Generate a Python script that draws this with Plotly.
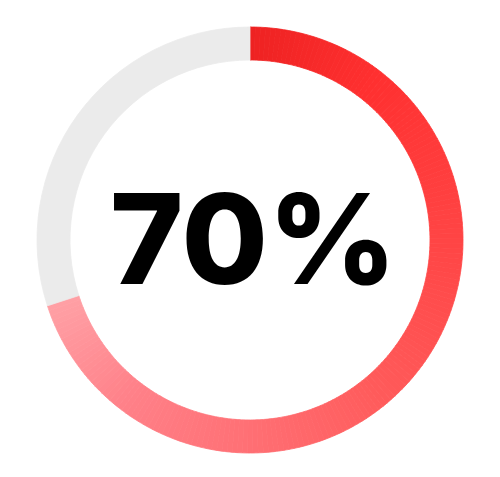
import plotly.graph_objects as go

# Data
progress_value = 70
remaining_value = 100 - progress_value
center_label = "70%"

# Gradient stops along the arc (fraction of filled arc, color)
gradient_stops = [
    (0.00, (238, 34, 34)),
    (0.15, (255, 48, 48)),
    (0.36, (255, 69, 69)),
    (0.55, (255, 90, 90)),
    (0.72, (255, 112, 117)),
    (0.86, (255, 128, 136)),
    (1.00, (255, 160, 165)),
]
track_color = "#ebebeb"

N = 180

def interp(t):
    for (t0, c0), (t1, c1) in zip(gradient_stops[:-1], gradient_stops[1:]):
        if t0 <= t <= t1:
            f = (t - t0) / (t1 - t0) if t1 > t0 else 0
            return "rgb(%d,%d,%d)" % tuple(round(a + (b - a) * f) for a, b in zip(c0, c1))
    return "rgb(%d,%d,%d)" % gradient_stops[-1][1]

values = [progress_value / N] * N + [remaining_value]
colors = [interp((i + 0.5) / N) for i in range(N)] + [track_color]

fig = go.Figure(go.Pie(
    values=values,
    sort=False,
    direction="clockwise",
    rotation=0,
    hole=0.845,
    textinfo="none",
    hoverinfo="skip",
    marker=dict(colors=colors, line=dict(color=colors, width=0.8)),
    showlegend=False,
))

fig.add_annotation(
    text=center_label,
    x=0.5, y=0.5, xref="paper", yref="paper",
    xshift=3, yshift=2,
    showarrow=False,
    font=dict(family="Inter", size=125, color="#000000", weight=800),
    xanchor="center", yanchor="middle",
)

fig.update_layout(
    width=500, height=477,
    margin=dict(l=29, r=45, t=19, b=32),
    paper_bgcolor="white",
    plot_bgcolor="white",
)

fig.write_html("out.html")
